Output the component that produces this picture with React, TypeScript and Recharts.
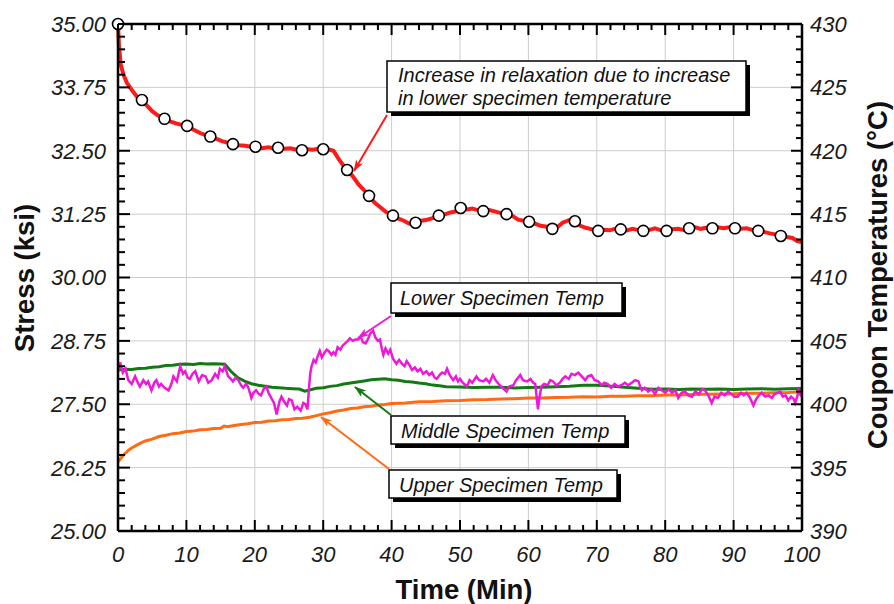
import React from 'react'
import { ComposedChart, Line, XAxis, YAxis, CartesianGrid, ReferenceLine } from 'recharts'

const W = 894
const H = 604
const PLOT_TOP = 24
const FONT = '"Liberation Sans", Arial, Helvetica, sans-serif'

// axis major ticks (labels)
const timeMajor = [0, 10, 20, 30, 40, 50, 60, 70, 80, 90, 100]
const stressMajor = [25, 26.25, 27.5, 28.75, 30, 31.25, 32.5, 33.75, 35]
const tempMajor = [390, 395, 400, 405, 410, 415, 420, 425, 430]

// stress (ksi) vs time (min) — red trace
const stressLine: [number, number][] = [
  [0, 35.0], [0.15, 34.55], [0.4, 34.2], [0.8, 34.0], [1.3, 33.84], [2.0, 33.7], [2.7, 33.58],
  [3.5, 33.5], [4.3, 33.38], [5.0, 33.28], [5.8, 33.2], [6.8, 33.13], [7.6, 33.08], [8.5, 33.04],
  [9.3, 33.01], [10.1, 32.99], [11.0, 32.92], [12.0, 32.85], [12.8, 32.81], [13.5, 32.78],
  [14.3, 32.74], [15.2, 32.69], [16.0, 32.66], [16.8, 32.63], [17.7, 32.61], [18.6, 32.6],
  [19.4, 32.58], [20.1, 32.58], [21.0, 32.55], [22.0, 32.57], [22.7, 32.55], [23.4, 32.56],
  [24.3, 32.54], [25.2, 32.55], [26.1, 32.52], [26.9, 32.51], [27.7, 32.53], [28.5, 32.52],
  [29.3, 32.54], [30.0, 32.53], [31.0, 32.52], [31.5, 32.5], [32.3, 32.33], [33.0, 32.2],
  [33.5, 32.12], [34.3, 32.0], [35.2, 31.83], [36.0, 31.72], [36.7, 31.61], [37.5, 31.48],
  [38.3, 31.39], [39.2, 31.29], [40.2, 31.22], [41.0, 31.16], [41.8, 31.12], [42.6, 31.06],
  [43.5, 31.08], [44.3, 31.12], [45.2, 31.14], [46.0, 31.17], [46.9, 31.22], [47.7, 31.24],
  [48.5, 31.28], [49.3, 31.3], [50.1, 31.37], [51.0, 31.34], [51.8, 31.36], [52.6, 31.33],
  [53.4, 31.31], [54.3, 31.33], [55.2, 31.3], [56.0, 31.27], [56.8, 31.25], [57.6, 31.22],
  [58.5, 31.14], [59.3, 31.12], [60.1, 31.1], [61.0, 31.06], [61.8, 31.02], [62.7, 31.0],
  [63.5, 30.96], [64.3, 31.0], [65.0, 31.08], [65.9, 31.13], [66.8, 31.11], [67.6, 31.02],
  [68.4, 30.98], [69.3, 30.95], [70.2, 30.92], [71.0, 30.94], [71.9, 30.93], [72.7, 30.96],
  [73.5, 30.95], [74.4, 30.93], [75.2, 30.96], [76.0, 30.94], [76.8, 30.92], [77.7, 30.94],
  [78.5, 30.97], [79.4, 30.93], [80.2, 30.92], [81.0, 30.95], [81.9, 30.96], [82.7, 30.94],
  [83.5, 30.97], [84.4, 30.99], [85.2, 30.96], [86.0, 30.98], [86.9, 30.97], [87.7, 30.99],
  [88.5, 30.97], [89.4, 30.99], [90.2, 30.97], [91.0, 30.96], [91.9, 30.97], [92.7, 30.94],
  [93.6, 30.92], [94.4, 30.9], [95.3, 30.87], [96.1, 30.85], [96.9, 30.82], [97.8, 30.8],
  [98.6, 30.78], [99.3, 30.72], [100, 30.7],
]

// open-circle markers on the stress trace
const markerTime = [0, 3.5, 6.8, 10.1, 13.5, 16.8, 20.1, 23.4, 26.9, 30.0, 33.5, 36.7, 40.2, 43.5, 46.9,
  50.1, 53.4, 56.8, 60.1, 63.5, 66.8, 70.2, 73.5, 76.8, 80.2, 83.5, 86.9, 90.2, 93.6, 96.9]
const markerStress = [35.0, 33.5, 33.13, 32.99, 32.78, 32.63, 32.58, 32.56, 32.51, 32.53, 32.12, 31.61,
  31.22, 31.08, 31.22, 31.37, 31.31, 31.25, 31.1, 30.96, 31.11, 30.92, 30.95, 30.92, 30.92, 30.97,
  30.97, 30.97, 30.92, 30.82]

// upper specimen temp (°C)
const upperTemp: [number, number][] = [
  [0, 395.45], [0.5, 395.8], [1, 396.1], [1.5, 396.35], [2, 396.55], [3, 396.85], [4, 397.1],
  [5, 397.25], [6, 397.45], [7, 397.55], [8, 397.68], [9, 397.74], [10, 397.85], [11, 397.88],
  [12, 397.98], [13, 398.0], [14, 398.08], [15, 398.1], [15.5, 398.28], [16, 398.22], [17, 398.32],
  [18, 398.4], [19, 398.47], [20, 398.56], [21, 398.58], [22, 398.68], [23, 398.7], [24, 398.78],
  [25, 398.8], [26, 398.88], [27, 398.9], [28, 398.98], [29, 399.1], [30, 399.24], [31, 399.33],
  [32, 399.47], [33, 399.54], [34, 399.66], [35, 399.7], [36, 399.81], [37, 399.85], [38, 399.94],
  [39, 399.98], [40, 400.06], [42, 400.1], [44, 400.2], [46, 400.21], [48, 400.28], [50, 400.3],
  [52, 400.36], [54, 400.37], [56, 400.42], [58, 400.43], [60, 400.5], [62, 400.49], [64, 400.53],
  [66, 400.55], [68, 400.6], [70, 400.58], [72, 400.63], [74, 400.64], [76, 400.68], [78, 400.67],
  [80, 400.73], [82, 400.73], [84, 400.77], [86, 400.78], [88, 400.81], [90, 400.82], [92, 400.86],
  [94, 400.87], [96, 400.91], [98, 400.93], [100, 400.98],
]

// middle specimen temp (°C)
const middleTemp: [number, number][] = [
  [0, 402.7], [1, 402.76], [2, 402.74], [3, 402.82], [4, 402.84], [5, 402.92], [6, 402.96],
  [7, 403.06], [8, 403.08], [9, 403.16], [10, 403.17], [11, 403.14], [12, 403.21], [13, 403.17],
  [14, 403.2], [15, 403.17], [15.6, 403.15], [16.5, 402.6], [17.5, 402.1], [18.5, 401.82],
  [19.5, 401.62], [20.5, 401.5], [21.5, 401.42], [22.5, 401.34], [23.5, 401.31], [24.5, 401.26],
  [25.5, 401.23], [26.5, 401.2], [27.3, 401.03], [28, 401.12], [29, 401.26], [30, 401.31],
  [31, 401.41], [32, 401.47], [33, 401.59], [34, 401.67], [35, 401.76], [36, 401.84], [37, 401.93],
  [38, 401.97], [39, 402.01], [40, 401.94], [41, 401.89], [42, 401.8], [43, 401.76], [44, 401.67],
  [45, 401.61], [46, 401.51], [47, 401.46], [48, 401.39], [50, 401.36], [52, 401.32], [54, 401.34],
  [56, 401.35], [58, 401.29], [60, 401.33], [62, 401.35], [64, 401.39], [66, 401.42], [68, 401.49],
  [70, 401.5], [72, 401.43], [74, 401.34], [76, 401.26], [78, 401.19], [80, 401.21], [82, 401.17],
  [84, 401.21], [86, 401.18], [88, 401.21], [90, 401.17], [92, 401.2], [94, 401.23], [96, 401.19],
  [98, 401.23], [100, 401.25],
]

// lower specimen temp (°C)
const lowerTemp: [number, number][] = [
  [0, 402.6], [0.3, 403.3], [0.7, 402.5], [1.1, 402.8], [1.5, 401.9], [2.0, 401.6], [2.5, 402.2],
  [2.9, 401.7], [3.2, 401.4], [3.7, 401.9], [4.1, 401.6], [4.4, 401.8], [4.9, 401.1], [5.3, 401.7],
  [5.6, 401.9], [6.0, 401.4], [6.3, 401.6], [6.8, 401.3], [7.4, 401.1], [7.8, 401.6], [8.1, 402.2],
  [8.6, 401.8], [9.1, 403.0], [9.5, 402.4], [9.8, 402.6], [10.2, 402.1], [10.5, 402.0], [10.9, 402.4],
  [11.3, 402.6], [11.8, 401.8], [12.3, 402.3], [12.8, 402.2], [13.2, 401.7], [13.7, 401.9],
  [14.2, 402.4], [14.6, 402.1], [14.9, 402.8], [15.3, 402.6], [15.6, 403.0], [16.1, 402.2],
  [16.5, 402.0], [16.8, 401.8], [17.2, 402.1], [17.6, 401.9], [18.0, 401.5], [18.3, 401.3],
  [18.7, 401.6], [19.0, 401.4], [19.5, 400.5], [19.8, 400.9], [20.2, 401.1], [20.6, 400.8],
  [20.9, 400.7], [21.3, 401.2], [21.7, 401.4], [22.0, 400.9], [22.4, 400.5], [22.8, 400.1],
  [23.2, 399.2], [23.6, 400.2], [23.9, 400.6], [24.3, 400.2], [24.7, 399.9], [25.0, 400.4],
  [25.4, 400.3], [25.8, 399.6], [26.2, 399.8], [26.7, 399.5], [27.1, 400.1], [27.4, 400.0],
  [27.7, 399.6], [27.9, 401.1], [28.1, 402.4], [28.3, 403.0], [28.6, 403.5], [28.9, 403.3],
  [29.2, 403.8], [29.5, 404.2], [29.8, 403.7], [30.1, 404.0], [30.5, 404.3], [30.8, 404.2],
  [31.2, 403.9], [31.5, 404.1], [31.8, 403.9], [32.1, 404.5], [32.5, 404.3], [32.8, 404.6],
  [33.2, 404.8], [33.6, 405.0], [33.9, 405.2], [34.3, 405.0], [34.7, 405.1], [35.1, 405.1],
  [35.5, 405.3], [35.8, 404.9], [36.2, 404.8], [36.5, 405.1], [36.9, 405.6], [37.3, 405.8],
  [37.6, 405.3], [38.0, 405.0], [38.3, 405.1], [38.6, 404.3], [38.8, 403.9], [39.1, 404.4],
  [39.5, 404.0], [39.8, 404.3], [40.2, 403.6], [40.7, 403.2], [41.1, 403.5], [41.5, 403.2],
  [41.9, 403.0], [42.2, 403.4], [42.6, 403.1], [43.0, 402.7], [43.4, 402.9], [43.8, 402.6],
  [44.2, 402.8], [44.6, 402.4], [45.1, 402.6], [45.5, 402.3], [45.9, 402.5], [46.3, 402.1],
  [46.6, 402.0], [47.0, 402.3], [47.4, 402.5], [47.8, 402.4], [48.1, 402.8], [48.5, 402.3],
  [49.0, 401.9], [49.4, 402.2], [49.7, 401.8], [50.0, 402.0], [50.4, 401.7], [51.0, 401.4],
  [51.4, 401.9], [51.8, 401.7], [52.4, 402.2], [52.8, 401.9], [53.4, 401.8], [53.8, 402.0],
  [54.3, 401.7], [54.8, 402.3], [55.2, 401.9], [55.8, 401.5], [56.2, 401.3], [56.8, 401.0],
  [57.2, 401.4], [57.8, 401.5], [58.2, 401.9], [58.8, 402.3], [59.2, 401.9], [59.8, 401.8],
  [60.3, 402.0], [60.7, 401.7], [61.0, 401.6], [61.2, 400.6], [61.4, 399.6], [61.6, 400.5],
  [61.9, 401.4], [62.3, 401.6], [62.8, 401.5], [63.2, 401.9], [63.6, 401.8], [64.1, 401.5],
  [64.6, 401.7], [65.0, 402.0], [65.4, 402.2], [65.9, 402.0], [66.3, 402.4], [66.8, 402.3],
  [67.3, 402.5], [67.8, 402.2], [68.3, 401.9], [68.7, 402.2], [69.2, 402.3], [69.7, 401.9],
  [70.2, 401.8], [70.7, 401.5], [71.1, 401.7], [71.6, 401.6], [72.1, 401.3], [72.6, 401.6],
  [73.1, 401.4], [73.6, 401.5], [74.1, 401.7], [74.6, 401.5], [75.1, 401.7], [75.6, 401.9],
  [76.1, 401.8], [76.4, 401.3], [76.6, 401.1], [77.0, 401.3], [77.5, 401.0], [78.0, 401.2],
  [78.5, 400.8], [79.0, 401.3], [79.5, 401.1], [80.0, 400.9], [80.5, 401.2], [81.0, 400.9],
  [81.5, 401.1], [81.9, 400.5], [82.4, 400.9], [82.9, 401.0], [83.4, 400.7], [83.9, 400.6],
  [84.4, 401.0], [84.9, 400.8], [85.4, 401.2], [85.8, 401.1], [86.3, 400.7], [86.8, 400.1],
  [87.2, 400.6], [87.7, 400.5], [88.2, 400.9], [88.7, 400.7], [89.2, 401.0], [89.7, 400.8],
  [90.1, 400.6], [90.6, 400.6], [91.1, 400.9], [91.5, 400.7], [91.9, 400.9], [92.4, 400.5],
  [92.9, 399.9], [93.3, 400.4], [93.7, 400.7], [94.1, 400.9], [94.6, 400.6], [95.1, 400.7],
  [95.6, 400.5], [96.0, 400.8], [96.4, 400.9], [96.8, 401.0], [97.2, 400.6], [97.6, 400.7],
  [98.0, 400.3], [98.4, 400.6], [98.8, 400.4], [99.0, 400.1], [99.3, 400.6], [99.5, 401.1],
  [99.8, 400.7], [100, 400.6],
]

const toRows = (pts: [number, number][]) => pts.map(([t, v]) => ({ t, v }))
const markerRows = markerTime.map((t, i) => ({ t, v: markerStress[i] }))

// 4 minor ticks between each pair of majors
const withMinor = (major: number[]) => {
  const out: number[] = []
  for (let i = 0; i < major.length - 1; i++) {
    for (let k = 0; k < 5; k++) out.push(+(major[i] + ((major[i + 1] - major[i]) * k) / 5).toFixed(4))
  }
  out.push(major[major.length - 1])
  return out
}
const isMajor = (v: number, list: number[]) => list.some((m) => Math.abs(m - v) < 1e-6)

const X_MARGIN = 15
const L_MARGIN = 12
const R_MARGIN = 8
const tickStyle = { fontSize: 22, fontStyle: 'italic', fontFamily: FONT } as const

const XTick = ({ x, y, payload }: any) => {
  const v = payload.value
  const major = isMajor(v, timeMajor)
  const ay = y - X_MARGIN
  const len = major ? 11 : 6
  return (
    <g>
      <line x1={x} x2={x} y1={ay} y2={ay - len} stroke="#000" strokeWidth={2} />
      <line x1={x} x2={x} y1={PLOT_TOP} y2={PLOT_TOP + len} stroke="#000" strokeWidth={2} />
      {major && <text x={x} y={y} dy="0.71em" textAnchor="middle" fill="#1a1a1a" style={tickStyle}>{v}</text>}
    </g>
  )
}

const LeftTick = ({ x, y, payload }: any) => {
  const v = payload.value
  const major = isMajor(v, stressMajor)
  const ax = x + L_MARGIN
  const len = major ? 12 : 7
  return (
    <g>
      <line x1={ax} x2={ax + len} y1={y} y2={y} stroke="#000" strokeWidth={2} />
      {major && <text x={x} y={y} dy="0.36em" textAnchor="end" fill="#1a1a1a" style={tickStyle}>{v.toFixed(2)}</text>}
    </g>
  )
}

const RightTick = ({ x, y, payload }: any) => {
  const v = payload.value
  const major = isMajor(v, tempMajor)
  const ax = x - R_MARGIN
  const len = major ? 11 : 6
  return (
    <g>
      <line x1={ax} x2={ax - len} y1={y} y2={y} stroke="#000" strokeWidth={2} />
      {major && <text x={x} y={y} dy="0.36em" textAnchor="start" fill="#1a1a1a" style={tickStyle}>{v}</text>}
    </g>
  )
}

const boxStyle = { fontSize: 20, fontStyle: 'italic', fontFamily: FONT } as const
const titleStyle = { fontSize: 27.5, fontWeight: 'bold', fontFamily: FONT } as const

const Callout = ({ x, y, w, h, lines, tx, base }: any) => (
  <g>
    <rect x={x + 4} y={y + 4} width={w} height={h} fill="#000" />
    <rect x={x} y={y} width={w} height={h} fill="#fff" stroke="#000" strokeWidth={1.5} />
    {lines.map((s: string, i: number) => (
      <text key={i} x={tx} y={base[i]} fill="#111" style={boxStyle}>{s}</text>
    ))}
  </g>
)

export default function App() {
  return (
    <div style={{ position: 'absolute', left: 0, top: 0, width: W, height: H, background: '#fff' }}>
      <ComposedChart width={W} height={H} margin={{ top: PLOT_TOP, right: 0, bottom: 0, left: 0 }}>
        <CartesianGrid
          stroke="#cdcdcd"
          strokeWidth={1}
          verticalValues={timeMajor.slice(1, -1)}
          horizontalValues={stressMajor.slice(1, -1)}
        />
        <XAxis
          type="number"
          dataKey="t"
          domain={[0, 100]}
          ticks={withMinor(timeMajor)}
          interval={0}
          height={73}
          tickSize={0}
          tickMargin={X_MARGIN}
          tickLine={false}
          tick={<XTick />}
          axisLine={{ stroke: '#000', strokeWidth: 2.5 }}
        />
        <YAxis
          yAxisId={0}
          type="number"
          domain={[25, 35]}
          ticks={withMinor(stressMajor)}
          interval={0}
          width={118}
          tickSize={0}
          tickMargin={L_MARGIN}
          tickLine={false}
          tick={<LeftTick />}
          axisLine={{ stroke: '#000', strokeWidth: 2.5 }}
        />
        <YAxis
          yAxisId="right"
          orientation="right"
          type="number"
          domain={[390, 430]}
          ticks={withMinor(tempMajor)}
          interval={0}
          width={92}
          tickSize={0}
          tickMargin={R_MARGIN}
          tickLine={false}
          tick={<RightTick />}
          axisLine={{ stroke: '#000', strokeWidth: 2.5 }}
        />
        <ReferenceLine yAxisId={0} y={35} stroke="#000" strokeWidth={2.5} />
        <Line yAxisId="right" data={toRows(upperTemp)} dataKey="v" stroke="#ff6a13" strokeWidth={3}
          dot={false} type="linear" isAnimationActive={false} />
        <Line yAxisId="right" data={toRows(middleTemp)} dataKey="v" stroke="#137a13" strokeWidth={3}
          dot={false} type="linear" isAnimationActive={false} />
        <Line yAxisId="right" data={toRows(lowerTemp)} dataKey="v" stroke="#f018d8" strokeWidth={2.5}
          dot={false} type="linear" isAnimationActive={false} />
        <Line yAxisId={0} data={toRows(stressLine)} dataKey="v" stroke="#ff1a1a" strokeWidth={4}
          dot={false} type="linear" isAnimationActive={false} />
        <Line yAxisId={0} data={markerRows} dataKey="v" stroke="none"
          dot={{ r: 5.5, fill: '#fff', stroke: '#000', strokeWidth: 1.6 }}
          activeDot={false} isAnimationActive={false} />
      </ComposedChart>

      <svg width={W} height={H} style={{ position: 'absolute', left: 0, top: 0, pointerEvents: 'none' }}>
        <defs>
          {[['red', '#ff1a1a'], ['mag', '#f018d8'], ['grn', '#137a13'], ['org', '#ff6a13']].map(([id, c]) => (
            <marker key={id} id={`ah-${id}`} markerWidth={12} markerHeight={8} refX={11} refY={4}
              orient="auto" markerUnits="userSpaceOnUse">
              <path d="M0,0 L12,4 L0,8 L3,4 z" fill={c} />
            </marker>
          ))}
        </defs>

        <text x={464} y={599} textAnchor="middle" fill="#111" style={titleStyle}>Time (Min)</text>
        <text transform="translate(34,278) rotate(-90)" textAnchor="middle" fill="#111" style={titleStyle}>
          Stress (ksi)
        </text>
        <text transform="translate(887,275) rotate(-90)" textAnchor="middle" fill="#111" style={titleStyle}>
          Coupon Temperatures (°C)
        </text>

        <line x1={387} y1={115} x2={354} y2={171} stroke="#ff1a1a" strokeWidth={2} markerEnd="url(#ah-red)" />
        <line x1={391} y1={316} x2={358} y2={338} stroke="#f018d8" strokeWidth={2} markerEnd="url(#ah-mag)" />
        <line x1={391} y1={415} x2={355} y2={387} stroke="#137a13" strokeWidth={2} markerEnd="url(#ah-grn)" />
        <line x1={389} y1={469} x2={321} y2={417} stroke="#ff6a13" strokeWidth={2} markerEnd="url(#ah-org)" />

        <Callout x={387} y={61} w={359} h={51} tx={398} base={[82, 104.5]}
          lines={['Increase in relaxation due to increase', 'in lower specimen temperature']} />
        <Callout x={391} y={283} w={231} h={30} tx={400} base={[305]} lines={['Lower Specimen Temp']} />
        <Callout x={391} y={416} w={234} h={28} tx={401} base={[438]} lines={['Middle Specimen Temp']} />
        <Callout x={389} y={470} w={228} h={28} tx={399} base={[492]} lines={['Upper Specimen Temp']} />
      </svg>
    </div>
  )
}
